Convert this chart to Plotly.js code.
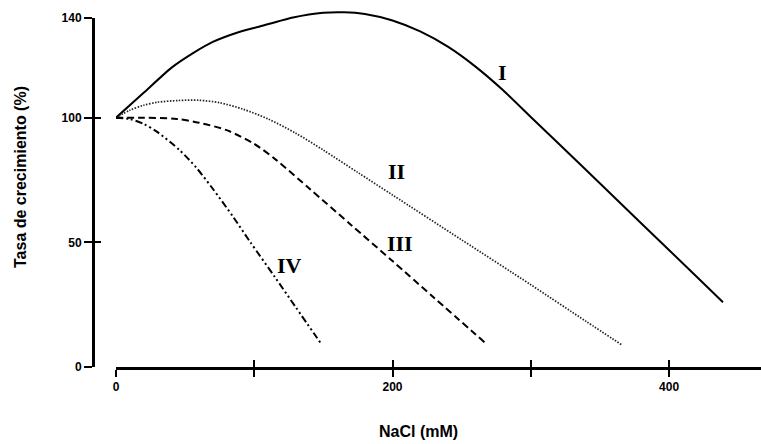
<!DOCTYPE html>
<html>
<head>
<meta charset="utf-8">
<script src="https://cdn.plot.ly/plotly-3.0.1.min.js"></script>
<style>html,body{margin:0;padding:0;background:#fff;}#chart{width:761px;height:444px;}</style>
</head>
<body>
<div id="chart"></div>
<script>
// NaCl (mM) and growth rate (%) for each response type
const xI   = [0, 20, 40, 56, 70, 88, 104, 128, 150, 165, 180, 200, 220, 240, 260, 280, 300, 340, 380, 420, 439];
const yI   = [100, 110, 120, 126, 130.4, 134.2, 136.6, 140.2, 142.1, 142.3, 141.6, 139, 134.6, 128.5, 120.5, 111, 100.3, 79, 57.6, 36.2, 26];
const xII  = [0, 10, 20, 30, 45, 60, 75, 92, 110, 130, 150, 175, 200, 250, 300, 340, 366];
const yII  = [100, 103, 105, 106.2, 106.9, 107, 106, 103.4, 99.5, 93.8, 87, 78, 69, 51, 33, 18.3, 8.8];
const xIII = [0, 20, 44, 60, 80, 100, 116, 140, 170, 200, 230, 268];
const yIII = [100, 100, 99.5, 98, 95, 89.5, 83, 71.5, 57, 42.5, 27.8, 9.2];
const xIV  = [0, 10, 20, 30, 46, 58, 70, 85, 97, 115, 130, 149];
const yIV  = [100, 99.5, 97.5, 94.2, 87, 80, 71.5, 60, 50.2, 36, 24, 8.8];

const xTickVals = [0, 100, 200, 300, 400];
const xTickText = ['0', '', '200', '', '400'];
const yTickVals = [0, 50, 100, 140];
const yTickText = ['0', '50', '100', '140'];
const curveNames = ['I', 'II', 'III', 'IV'];

const sans = 'Liberation Sans, Arial, sans-serif';
const serif = 'Liberation Serif, Times New Roman, serif';

const common = {mode: 'lines', xaxis: 'x', yaxis: 'y3', hoverinfo: 'skip'};
const traces = [
  Object.assign({x: xI, y: yI, line: {color: '#000', width: 2, shape: 'spline', smoothing: 0.6}, name: curveNames[0]}, common),
  Object.assign({x: xII, y: yII, line: {color: '#222', width: 1.7, dash: '1.5px,1.5px', shape: 'spline', smoothing: 0.8}, name: curveNames[1]}, common),
  Object.assign({x: xIII, y: yIII, line: {color: '#000', width: 2, dash: '7px,4px', shape: 'spline', smoothing: 0.8}, name: curveNames[2]}, common),
  Object.assign({x: xIV, y: yIV, line: {color: '#000', width: 2, dash: '7px,3px,2px,3px,2px,3px', shape: 'spline', smoothing: 0.8}, name: curveNames[3]}, common),
  // invisible traces to activate the tick-only axes
  {x: [0], y: [0], xaxis: 'x2', yaxis: 'y2', mode: 'markers', marker: {opacity: 0}, hoverinfo: 'skip'},
  {x: [0], y: [0], xaxis: 'x', yaxis: 'y', mode: 'markers', marker: {opacity: 0}, hoverinfo: 'skip'}
];

const plotTop = 5, plotBottom = 367;
const yTopPx = 18;
const dTop = (plotBottom - yTopPx) / (plotBottom - plotTop);
const xDomain = [23 / 668, 1];
const xRange = [0, 466.5];
const yRange = [0, 140];

const layout = {
  width: 761, height: 444,
  margin: {l: 93, r: 0, t: plotTop, b: 444 - plotBottom},
  paper_bgcolor: '#fff', plot_bgcolor: 'rgba(0,0,0,0)',
  showlegend: false,
  xaxis: {
    domain: xDomain, range: xRange, anchor: 'y',
    showgrid: false, zeroline: false,
    showline: true, linecolor: '#000', linewidth: 2.5,
    ticks: 'outside', ticklen: 7, tickwidth: 2, tickcolor: '#000',
    tickvals: xTickVals, ticktext: xTickText,
    tickfont: {family: sans, size: 12, color: '#000', weight: 'bold'}
  },
  xaxis2: {
    domain: xDomain, range: xRange, overlaying: 'x', anchor: 'y',
    showgrid: false, zeroline: false, showline: false,
    ticks: 'inside', ticklen: 7, tickwidth: 2, tickcolor: '#000',
    tickvals: xTickVals, showticklabels: false
  },
  yaxis: {
    domain: [0, dTop], range: yRange, anchor: 'free', position: 0,
    showgrid: false, zeroline: false,
    showline: true, linecolor: '#000', linewidth: 2.5,
    ticks: 'outside', ticklen: 8, tickwidth: 2, tickcolor: '#000',
    tickvals: yTickVals, ticktext: yTickText,
    tickfont: {family: sans, size: 12, color: '#000', weight: 'bold'}
  },
  yaxis2: {
    domain: [0, dTop], range: yRange, overlaying: 'y', anchor: 'free', position: 0,
    showgrid: false, zeroline: false, showline: false,
    ticks: 'inside', ticklen: 7, tickwidth: 2, tickcolor: '#000',
    tickvals: yTickVals, showticklabels: false
  },
  yaxis3: {
    domain: [0, 1], range: [0, yRange[1] / dTop], anchor: 'x', visible: false,
    showgrid: false, zeroline: false
  },
  annotations: [
    {x: 279.2, y: 118.3, text: curveNames[0]},
    {x: 202.9, y: 78.4, text: curveNames[1]},
    {x: 205.7, y: 49.5, text: curveNames[2]},
    {x: 125.8, y: 40.9, text: curveNames[3]}
  ].map(a => Object.assign(a, {xref: 'x', yref: 'y', showarrow: false,
    font: {family: serif, size: 22, color: '#000', weight: 'bold'}})).concat([
    {xref: 'paper', yref: 'paper', x: (20 - 93) / 668, y: (plotBottom - 177) / (plotBottom - plotTop),
     xanchor: 'center', yanchor: 'middle', textangle: -90, showarrow: false,
     text: 'Tasa de crecimiento (%)', font: {family: sans, size: 16, color: '#000', weight: 'bold'}},
    {xref: 'paper', yref: 'paper', x: (418 - 93) / 668, y: (plotBottom - 431) / (plotBottom - plotTop),
     xanchor: 'center', yanchor: 'middle', showarrow: false,
     text: 'NaCl (mM)', font: {family: sans, size: 16, color: '#000', weight: 'bold'}}
  ])
};

Plotly.newPlot('chart', traces, layout, {displayModeBar: false, staticPlot: true});
</script>
</body>
</html>
